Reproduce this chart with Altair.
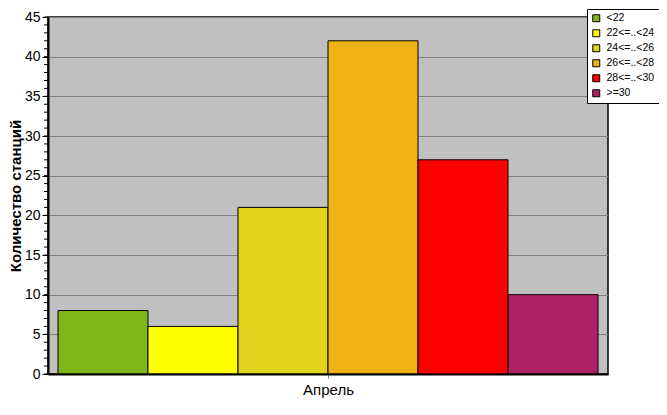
import altair as alt
import pandas as pd

categories = ["<22", "22<=..<24", "24<=..<26", "26<=..<28", "28<=..<30", ">=30"]
counts = [8, 6, 21, 42, 27, 10]
colors = ["#7FB719", "#FFFF00", "#E1D31B", "#EFB215", "#FF0000", "#AD2262"]
group_label = "Апрель"
y_title = "Количество станций"
y_ticks = [0, 5, 10, 15, 20, 25, 30, 35, 40, 45]
minor_ticks = list(range(0, 46))

FONT = "Liberation Sans"

df = pd.DataFrame({"cat": categories, "count": counts})
df["x0"] = list(range(len(categories)))
df["x1"] = df["x0"] + 1
minor_df = pd.DataFrame({"count": minor_ticks})

y_enc = alt.Y(
    "count:Q",
    scale=alt.Scale(domain=[0, 45], nice=False, zero=True),
    axis=alt.Axis(
        values=y_ticks,
        title=y_title,
        titleFont=FONT,
        titleFontSize=15,
        titleFontWeight="bold",
        titleColor="black",
        titleAngle=270,
        titleX=-28,
        titleY=178.5,
        titleAlign="center",
        titleBaseline="alphabetic",
        labelFont=FONT,
        labelFontSize=14,
        labelColor="black",
        labelPadding=2,
        tickColor="black",
        tickSize=6,
        tickWidth=1,
        domainColor="black",
        domainWidth=2,
        grid=True,
        gridColor="#808080",
        gridWidth=1,
    ),
)

x_scale = alt.Scale(domain=[-1 / 9, len(categories) + 1 / 9], nice=False, zero=False)

bars = alt.Chart(df).mark_rect(stroke="black", strokeWidth=1).encode(
    x=alt.X(
        "x0:Q",
        scale=x_scale,
        axis=alt.Axis(
            values=[len(categories) / 2],
            labelExpr="'" + group_label + "'",
            title=None,
            grid=False,
            domainColor="black",
            domainWidth=2,
            tickColor="#808080",
            tickSize=4,
            labelFont=FONT,
            labelFontSize=15,
            labelColor="black",
            labelPadding=4,
            zindex=1,
        ),
    ),
    x2="x1:Q",
    y=y_enc,
    y2=alt.datum(0),
    color=alt.Color(
        "cat:N",
        scale=alt.Scale(domain=categories, range=colors),
        legend=alt.Legend(
            title=None,
            orient="none",
            legendX=539,
            legendY=-8,
            fillColor="white",
            strokeColor="black",
            padding=4,
            symbolType="square",
            symbolSize=49,
            symbolStrokeColor="black",
            symbolStrokeWidth=1,
            labelFont=FONT,
            labelFontSize=10.5,
            labelColor="black",
            labelOffset=5,
            rowPadding=3,
        ),
    ),
)

minor = alt.Chart(minor_df).mark_rule(color="black", strokeWidth=1).encode(
    y=y_enc,
    x=alt.value(-4),
    x2=alt.value(0),
)

chart = (
    alt.layer(minor, bars)
    .properties(
        width=560,
        height=357,
        autosize=alt.AutoSizeParams(type="none"),
        padding={"left": 40, "top": 9, "right": 51, "bottom": 30},
        background="white",
    )
    .configure_view(fill="#C0C0C0", stroke="black", strokeWidth=1.5)
)

chart.save("out.html", embed_options={"renderer": "svg", "actions": False})
